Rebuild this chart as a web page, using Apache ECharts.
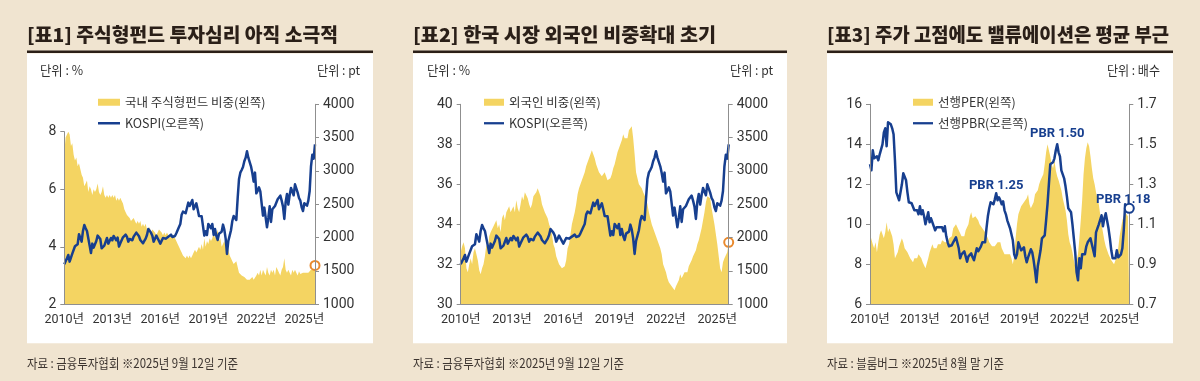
<!DOCTYPE html>
<html><head><meta charset="utf-8">
<script src="https://cdn.jsdelivr.net/npm/echarts@6/dist/echarts.min.js"></script>
<style>html,body{margin:0;padding:0;background:#f0e4d0;}#c{width:1200px;height:381px;}</style>
</head><body><div id="c"></div>
<script>
// ---------- DATA ----------
const kospi = [
1600,1595,1690,1740,1640,1700,1760,1740,1870,1880,1900,2050,
2070,1940,2100,2190,2140,2100,2130,1880,1770,1910,1850,1825,
1950,2030,2015,1980,1840,1855,1880,1905,1995,1910,1930,1995,
1960,2025,2005,1960,2000,1865,1915,1925,2005,2030,2045,2010,
1940,1980,1985,1960,2015,2000,2075,2070,2020,1965,1980,1915,
1950,1985,2040,2130,2115,2075,2030,1940,1960,2030,1990,1960,
1910,1915,1995,1995,1985,1970,2015,2035,2045,2010,1985,2025,
2065,2090,2160,2205,2345,2390,2400,2365,2395,2525,2475,2470,
2565,2425,2445,2515,2425,2325,2295,2320,2345,2030,2095,2040,
2205,2195,2140,2205,2040,2130,2025,1965,2060,2085,2090,2195,
2120,1985,1755,1950,2030,2110,2250,2325,2330,2265,2590,2875,
2975,3015,3060,3145,3200,3295,3200,3200,3070,2970,2840,2975,
2665,2700,2755,2695,2685,2330,2450,2470,2155,2295,2470,2235,
2425,2410,2475,2500,2575,2565,2630,2555,2465,2280,2535,2655,
2495,2640,2745,2690,2635,2800,2770,2675,2595,2555,2455,2400,
2515,2530,2480,2555,2700,3070,3245,3185,3400];

const fundShare = [
7.3,7.8,7.9,8.0,7.9,7.5,7.6,7.2,7.0,7.1,6.8,6.9,
6.7,6.5,6.4,6.1,6.2,6.3,5.9,6.1,6.0,5.8,6.0,5.9,
6.0,6.2,5.9,5.8,5.9,6.1,5.8,5.7,5.8,5.7,5.8,5.7,
5.8,5.7,5.8,5.6,5.7,5.6,5.7,5.6,5.5,5.3,5.2,5.1,
5.1,5.0,4.9,4.9,5.0,4.9,4.8,4.9,4.8,4.9,4.7,4.8,
4.7,4.8,4.6,4.5,4.7,4.5,4.6,4.6,4.5,4.4,4.5,4.6,
4.6,4.5,4.4,4.5,4.4,4.5,4.4,4.3,4.4,4.3,4.4,4.3,
4.2,4.1,4.0,3.9,3.8,3.7,3.7,3.6,3.7,3.6,3.7,3.6,
3.7,3.8,3.9,3.8,3.9,4.0,3.9,4.1,3.9,4.3,4.0,4.2,
4.1,4.3,4.2,4.3,4.5,4.3,4.4,4.6,4.2,4.3,4.0,4.1,
4.2,4.0,4.3,3.9,3.7,3.6,3.5,3.4,3.4,3.5,3.3,3.1,
3.1,3.0,3.0,2.95,2.9,2.85,2.9,2.85,2.9,2.95,2.85,2.9,
3.0,3.1,3.0,3.2,3.0,3.2,3.1,3.0,3.3,3.1,3.0,3.2,
3.1,3.2,3.0,3.3,3.2,3.1,3.0,3.2,3.3,3.6,3.2,3.1,
3.2,3.1,3.0,3.2,3.1,3.2,3.1,3.0,3.15,3.05,3.1,3.1,
3.05,3.1,3.15,3.1,3.05,3.2,3.15,3.25,3.35];

const foreignShare = [
32.6,32.9,33.1,32.8,31.8,31.6,32.0,32.3,32.0,32.6,32.8,32.5,
32.2,31.7,31.5,31.8,32.0,32.4,33.0,32.7,33.4,33.6,33.5,33.9,
34.0,34.2,33.8,34.0,33.6,34.3,34.5,34.2,34.6,34.5,34.9,34.6,
34.7,34.9,34.6,35.2,34.8,34.6,35.0,35.4,35.2,35.6,35.5,35.3,
35.0,34.8,35.0,35.4,35.3,35.6,35.8,35.7,35.4,35.0,34.9,34.6,
34.6,34.3,34.0,33.8,33.5,33.0,32.8,32.4,32.2,32.0,32.1,31.8,
31.8,31.9,32.2,32.8,33.0,33.5,34.0,34.3,34.6,35.0,35.5,35.8,
36.0,36.2,36.3,36.6,36.9,37.1,37.3,37.5,37.7,37.6,37.3,37.0,
36.8,36.6,36.5,36.4,36.3,36.6,36.5,36.2,36.1,36.3,36.5,36.8,
37.0,37.3,37.6,37.8,38.0,38.2,38.5,38.3,38.4,38.3,38.7,38.8,
38.9,38.3,37.5,36.6,36.3,36.0,35.9,35.8,35.6,35.5,35.3,35.0,
34.6,34.3,34.0,33.8,33.6,33.4,33.3,33.0,32.8,32.5,32.0,31.8,
31.6,31.3,31.1,31.0,30.9,30.8,30.7,30.9,31.0,31.2,31.5,31.3,
31.3,31.6,31.7,31.6,31.9,32.0,32.2,32.4,32.5,32.7,33.0,33.2,
33.5,33.8,34.2,34.6,35.1,35.4,35.5,35.3,34.8,34.4,34.0,33.5,
33.0,32.4,31.8,31.6,32.1,32.3,32.4,32.6,33.1];

const forwardPER = [
9.5,9.6,9.0,8.8,9.1,8.6,9.1,9.5,9.7,9.8,9.3,9.6,
10.1,9.6,9.8,9.6,9.4,9.0,8.3,8.2,8.6,8.9,9.1,9.3,
9.1,8.8,8.7,8.6,8.5,8.3,8.2,8.1,8.3,8.2,8.3,8.5,
8.4,8.3,8.1,8.0,7.8,7.9,8.3,8.6,8.8,9.0,8.8,8.9,
8.8,9.0,9.1,9.0,9.2,9.3,9.1,9.2,9.1,9.3,9.2,9.4,
9.8,9.9,10.0,9.9,9.7,9.6,9.4,9.3,9.4,9.7,9.8,10.0,
10.4,10.6,10.3,10.2,10.4,10.3,10.2,10.0,9.9,9.8,9.7,9.6,
9.5,9.3,9.1,9.0,8.9,8.8,8.9,9.0,9.1,9.0,9.1,8.8,
8.7,8.5,8.4,8.5,8.6,8.5,8.3,8.0,8.4,9.3,10.0,10.5,
10.7,10.9,11.0,11.1,11.2,11.3,11.5,11.0,10.8,10.9,11.1,11.5,
11.6,11.7,12.0,12.2,12.3,12.5,13.0,13.6,14.0,13.9,13.4,13.0,
12.8,13.2,12.7,12.4,12.2,12.1,11.7,11.3,11.0,10.7,10.2,9.5,
9.1,8.9,8.6,8.2,7.9,8.0,8.5,9.3,10.2,11.2,12.5,13.3,
13.8,14.1,13.9,13.4,12.8,12.3,12.0,11.6,11.3,11.0,10.5,10.0,
9.6,9.2,8.9,8.8,8.5,8.4,8.2,8.1,8.0,8.1,8.4,8.8,
9.4,9.8,10.2,10.4,10.6,10.5,10.4,10.3];

const forwardPBR = [
1.40,1.37,1.47,1.43,1.42,1.44,1.42,1.45,1.46,1.50,1.56,1.58,
1.49,1.61,1.62,1.60,1.58,1.55,1.42,1.26,1.255,1.22,1.21,1.30,
1.355,1.35,1.32,1.26,1.21,1.21,1.205,1.20,1.17,1.18,1.17,1.15,
1.19,1.15,1.17,1.14,1.10,1.11,1.16,1.11,1.13,1.11,1.09,1.07,
1.085,1.08,1.085,1.08,1.085,1.065,1.09,1.04,1.01,0.99,0.98,0.995,
1.01,1.02,1.035,1.03,0.98,0.93,0.95,0.96,0.965,0.94,0.913,0.94,
0.93,0.955,0.935,0.92,0.95,0.98,0.965,0.975,0.99,1.01,1.005,1.01,
1.08,1.14,1.18,1.21,1.21,1.20,1.225,1.255,1.22,1.235,1.22,1.20,
1.215,1.17,1.15,1.12,1.10,1.08,1.075,1.02,0.95,0.93,0.95,1.01,
0.99,0.97,0.97,0.985,0.94,0.91,0.935,0.955,0.975,0.96,0.92,0.87,
0.81,0.89,0.93,0.97,1.03,1.04,1.045,1.12,1.20,1.30,1.40,1.41,
1.41,1.43,1.47,1.50,1.46,1.44,1.37,1.35,1.33,1.29,1.24,1.18,
1.17,1.16,1.10,1.03,0.96,0.86,0.82,0.93,0.88,0.95,0.95,0.95,
0.99,1.01,1.02,1.03,1.00,1.01,0.94,1.06,1.08,1.10,1.11,1.145,
1.09,1.13,1.155,1.15,1.08,1.03,0.97,0.93,0.92,0.93,0.97,0.935,
0.94,0.95,0.98,1.07,1.20,1.20,1.17,1.18];

const yearTicks = [2010, 2013, 2016, 2019, 2022, 2025];
const monthsAB = [];
for (let y = 2010; y <= 2025; y++) for (let m = 1; m <= 12; m++) {
  if (y === 2025 && m > 9) break;
  monthsAB.push(y + '-' + String(m).padStart(2, '0'));
}
const monthsKR = monthsAB.slice(0, kospi.length);          // Jan 2010 - Sep 2025
const monthsVal = monthsAB.slice(0, forwardPER.length);    // Jan 2010 - Aug 2025

const names = {
  fund: '국내 주식형펀드 비중(왼쪽)', kospi: 'KOSPI(오른쪽)',
  foreign: '외국인 비중(왼쪽)', per: '선행PER(왼쪽)', pbr: '선행PBR(오른쪽)'
};
const pbrNotes = [ {i: 91, t: 'PBR 1.25'}, {i: 135, t: 'PBR 1.50'} ];
const pbrLastNote = 'PBR 1.18';

// ---------- STYLE / LAYOUT ----------
const NAVY = '#173f8f', YEL = '#f4d462', ORG = '#e98a2e', AX = '#8f8f8f', TXT = '#333333';
const numFont = "'Roboto','Noto Sans CJK KR',sans-serif";
const krFont = "'Noto Sans CJK KR',sans-serif";
const LINE_ICON = 'path://M0,0H44V5H0Z';

const panels = [
  {x: 27, w: 346, title: '[표1] 주식형펀드 투자심리 아직 소극적', titleW: 311,
   note: '자료 : 금융투자협회 ※2025년 9월 12일 기준', noteW: 211,
   units: [{t: '단위 : %', x: 40, w: 43}, {t: '단위 : pt', x: 317, w: 43}]},
  {x: 413, w: 374, title: '[표2] 한국 시장 외국인 비중확대 초기', titleW: 303,
   note: '자료 : 금융투자협회 ※2025년 9월 12일 기준', noteW: 211,
   units: [{t: '단위 : %', x: 427, w: 43}, {t: '단위 : pt', x: 730, w: 43}]},
  {x: 827, w: 346, title: '[표3] 주가 고점에도 밸류에이션은 평균 부근', titleW: 342,
   note: '자료 : 블룸버그 ※2025년 8월 말 기준', noteW: 177,
   units: [{t: '단위 : 배수', x: 1107, w: 53}]}
];

const mctx = document.createElement('canvas').getContext('2d');
function fitScale(text, font, target) {
  mctx.font = font;
  const w = mctx.measureText(text).width;
  return w > 0 ? target / w : 1;
}
function textEl(text, x, y, font, fill, target) {
  return {type: 'text', x: x, y: y, z: 10, scaleX: target ? fitScale(text, font, target) : 1,
    style: {text: text, font: font, fill: fill, textVerticalAlign: 'middle', verticalAlign: 'middle'}};
}

const graphics = [];
panels.forEach(p => {
  graphics.push({type: 'rect', z: -5, shape: {x: p.x, y: 53.5, width: p.w, height: 289.8}, style: {fill: '#ffffff'}});
  graphics.push({type: 'rect', z: -4, shape: {x: p.x, y: 50.5, width: p.w, height: 2.6}, style: {fill: '#2b1f18'}});
  const tf = "900 19px 'Noto Sans CJK KR'";
  graphics.push(textEl(p.title, p.x, 35, tf, '#2a1f18', p.titleW));
  const nf = "13px 'Noto Sans CJK KR'";
  graphics.push(textEl(p.note, p.x, 363, nf, '#3d3530', p.noteW));
  const uf = "13px 'Noto Sans CJK KR'";
  p.units.forEach(u => graphics.push(textEl(u.t, u.x, 70, uf, TXT, u.w)));
});

function xAx(gridIndex, data, show) {
  return {type: 'category', gridIndex, data, boundaryGap: false, show, z: 5,
    axisLine: {lineStyle: {color: AX, width: 1}}, axisTick: {show: false}, splitLine: {show: false},
    axisLabel: {interval: (i, v) => v.endsWith('-01') && yearTicks.includes(+v.slice(0, 4)),
      formatter: v => v.slice(0, 4) + '년', fontSize: 12.5, color: TXT, fontFamily: numFont, margin: 9,
      hideOverlap: false}};
}
function yAx(gridIndex, position, min, max, interval, fmt) {
  return {type: 'value', gridIndex, position, min, max, interval, z: 5,
    axisLine: {show: true, lineStyle: {color: AX, width: 1}},
    axisTick: {show: true, length: 4, lineStyle: {color: AX}}, splitLine: {show: false},
    axisLabel: {fontSize: 14, color: TXT, fontFamily: numFont, margin: 8, formatter: fmt || (v => String(v))}};
}
function legend(left, itemWidth, first, second) {
  return {left, top: 91, orient: 'vertical', itemWidth, itemHeight: 7, itemGap: 8.5, selectedMode: false,
    textStyle: {fontSize: 12.5, color: TXT, fontFamily: krFont},
    data: [{name: first, icon: 'rect'}, {name: second, icon: LINE_ICON, itemStyle: {color: NAVY, borderWidth: 0}}]};
}
function areaSeries(name, xi, yi, data) {
  return {name, type: 'line', xAxisIndex: xi, yAxisIndex: yi, data, symbol: 'none', color: YEL, z: 2,
    lineStyle: {width: 0}, areaStyle: {color: YEL, opacity: 1}, silent: true};
}
function lineSeries(name, xi, yi, data) {
  return {name, type: 'line', xAxisIndex: xi, yAxisIndex: yi, data, symbol: 'none', color: NAVY, z: 3,
    lineStyle: {width: 2.5, color: NAVY, join: 'round'}, silent: true};
}
const endCircle = (cat, val, color) => ({symbol: 'circle', symbolSize: 9, silent: true,
  itemStyle: {color: '#ffffff', borderColor: color, borderWidth: 2}, label: {show: false},
  data: [{coord: [cat, val]}]});

const nK = kospi.length - 1, nV = forwardPBR.length - 1;
const s1 = areaSeries(names.fund, 0, 0, fundShare);
s1.markPoint = endCircle(monthsKR[nK], fundShare[nK], ORG);
const s3 = areaSeries(names.foreign, 2, 2, foreignShare);
s3.markPoint = endCircle(monthsKR[nK], foreignShare[nK], ORG);
const s6 = lineSeries(names.pbr, 3, 5, forwardPBR);
const noteLabel = {show: true, position: 'top', color: NAVY, fontWeight: 'bold', fontSize: 13, fontFamily: numFont};
s6.markPoint = {silent: true, z: 6, data: [
  ...pbrNotes.map(n => ({coord: [monthsVal[n.i], forwardPBR[n.i]], symbol: 'circle', symbolSize: 0,
    label: Object.assign({}, noteLabel, {formatter: n.t, distance: n.i === 135 ? 4 : 1})})),
  {coord: [monthsVal[nV], forwardPBR[nV]], symbol: 'circle', symbolSize: 9,
    itemStyle: {color: '#ffffff', borderColor: NAVY, borderWidth: 2},
    label: Object.assign({}, noteLabel, {formatter: pbrLastNote, distance: -3, offset: [-6, 0]})}
]};

const option = {
  animation: false,
  backgroundColor: 'transparent',
  graphic: graphics,
  legend: [legend(93, 22, names.fund, names.kospi), legend(479, 20, names.foreign, names.kospi), legend(908, 20, names.per, names.pbr)],
  grid: [
    {left: 64.3, width: 250.7, top: 131.7, height: 172.6, containLabel: false},
    {left: 64.3, width: 250.7, top: 104.3, height: 200, containLabel: false},
    {left: 460.7, width: 268, top: 104.3, height: 200, containLabel: false},
    {left: 870, width: 259.3, top: 104.3, height: 200, containLabel: false}
  ],
  xAxis: [xAx(0, monthsKR, true), xAx(1, monthsKR, false), xAx(2, monthsKR, true), xAx(3, monthsVal, true)],
  yAxis: [
    yAx(0, 'left', 2, 8, 2),
    yAx(1, 'right', 1000, 4000, 500),
    yAx(2, 'left', 30, 40, 2),
    yAx(2, 'right', 1000, 4000, 500),
    yAx(3, 'left', 6, 16, 2),
    yAx(3, 'right', 0.7, 1.7, 0.2, v => v.toFixed(1))
  ],
  series: [
    s1, lineSeries(names.kospi, 1, 1, kospi),
    s3, lineSeries(names.kospi, 2, 3, kospi),
    areaSeries(names.per, 3, 4, forwardPER), s6
  ]
};
const chart = echarts.init(document.getElementById('c'), null, {renderer: 'canvas'});
chart.setOption(option);
</script></body></html>
